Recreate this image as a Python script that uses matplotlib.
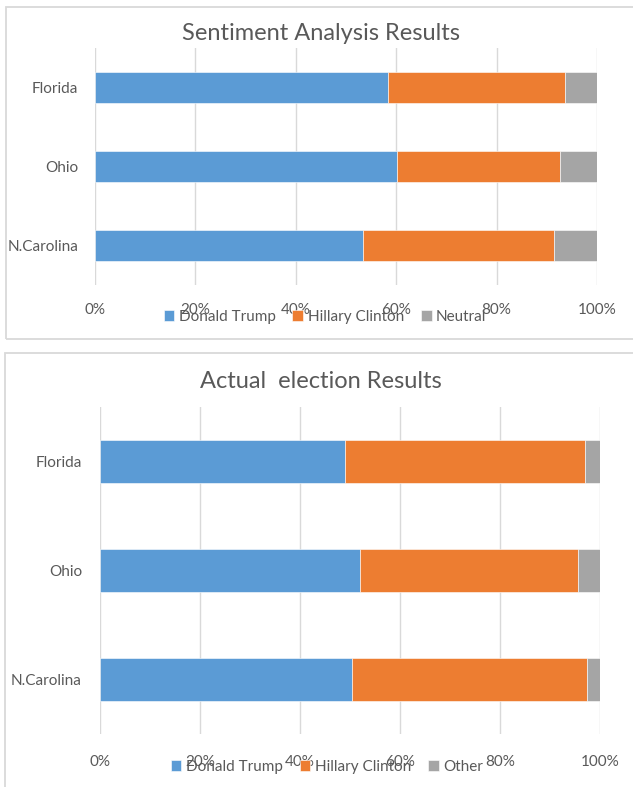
import matplotlib
matplotlib.use("Agg")
import matplotlib.pyplot as plt
from matplotlib.patches import Rectangle
import numpy as np

plt.rcParams['font.family'] = ['Lato', 'DejaVu Sans']

states = ["Florida", "Ohio", "N.Carolina"]
ticks = [0, 20, 40, 60, 80, 100]

# sentiment analysis shares (%)
sent_trump = [58.3, 60.1, 53.4]
sent_clinton = [35.4, 32.6, 38.0]
sent_neutral = [6.3, 7.3, 8.6]

# actual election shares (%)
act_trump = [48.9, 51.9, 50.4]
act_clinton = [48.0, 43.7, 46.9]
act_other = [3.1, 4.4, 2.7]

blue = '#5B9BD5'
orange = '#ED7D31'
gray = '#A5A5A5'
textc = '#595959'
gridc = '#D9D9D9'

W, H = 633, 787
fig = plt.figure(figsize=(W / 100, H / 100), dpi=100)


def fx(px):
    return px / W


def fy(py):
    return 1 - py / H


# panel borders
fig.patches.append(Rectangle((fx(6), fy(339)), fx(700), fy(7) - fy(339), transform=fig.transFigure,
                             fill=False, edgecolor=gridc, lw=1.3))
fig.patches.append(Rectangle((fx(5), fy(820)), fx(700), fy(353) - fy(820), transform=fig.transFigure,
                             fill=False, edgecolor=gridc, lw=1.3))


def panel(rect, title, title_y, vals, labels, leg_xy, pad, ypad):
    ax = fig.add_axes(rect)
    y = np.arange(len(states))
    left = np.zeros(len(states))
    handles = []
    for v, c, lab in zip(vals, [blue, orange, gray], labels):
        b = ax.barh(y, v, left=left, height=0.4, color=c, edgecolor='white', linewidth=0.4, label=lab)
        handles.append(b)
        left = left + np.array(v)
    ax.set_ylim(2.5, -0.5)
    ax.set_xlim(0, 100)
    ax.set_yticks(y)
    ax.set_yticklabels(states, fontsize=11, color=textc)
    ax.set_xticks(ticks)
    ax.set_xticklabels([str(t) + '%' for t in ticks], fontsize=11, color=textc)
    ax.tick_params(length=0)
    ax.tick_params(axis='y', pad=ypad)
    ax.tick_params(axis='x', pad=pad)
    for s in ax.spines.values():
        s.set_visible(False)
    ax.xaxis.grid(True, color=gridc, lw=1)
    ax.set_axisbelow(True)
    fig.text(0.507, title_y, title, ha='center', va='center', fontsize=17, color=textc)
    fig.legend(handles=handles, loc='center', bbox_to_anchor=leg_xy, ncol=3, frameon=False,
               fontsize=11, labelcolor=textc, handlelength=0.7, handleheight=0.7,
               handletextpad=0.3, columnspacing=1.1, borderpad=0, borderaxespad=0)
    return ax


panel([fx(95), fy(285), fx(502), fy(48) - fy(285)], "Sentiment Analysis Results", fy(33),
      [sent_trump, sent_clinton, sent_neutral], ["Donald Trump", "Hillary Clinton", "Neutral"],
      (fx(325), fy(317)), 13, 12)

panel([fx(100), fy(734), fx(500), fy(407) - fy(734)], "Actual  election Results", fy(382),
      [act_trump, act_clinton, act_other], ["Donald Trump", "Hillary Clinton", "Other"],
      (fx(327), fy(767)), 15, 13)

fig.savefig("out.png", dpi=100)
